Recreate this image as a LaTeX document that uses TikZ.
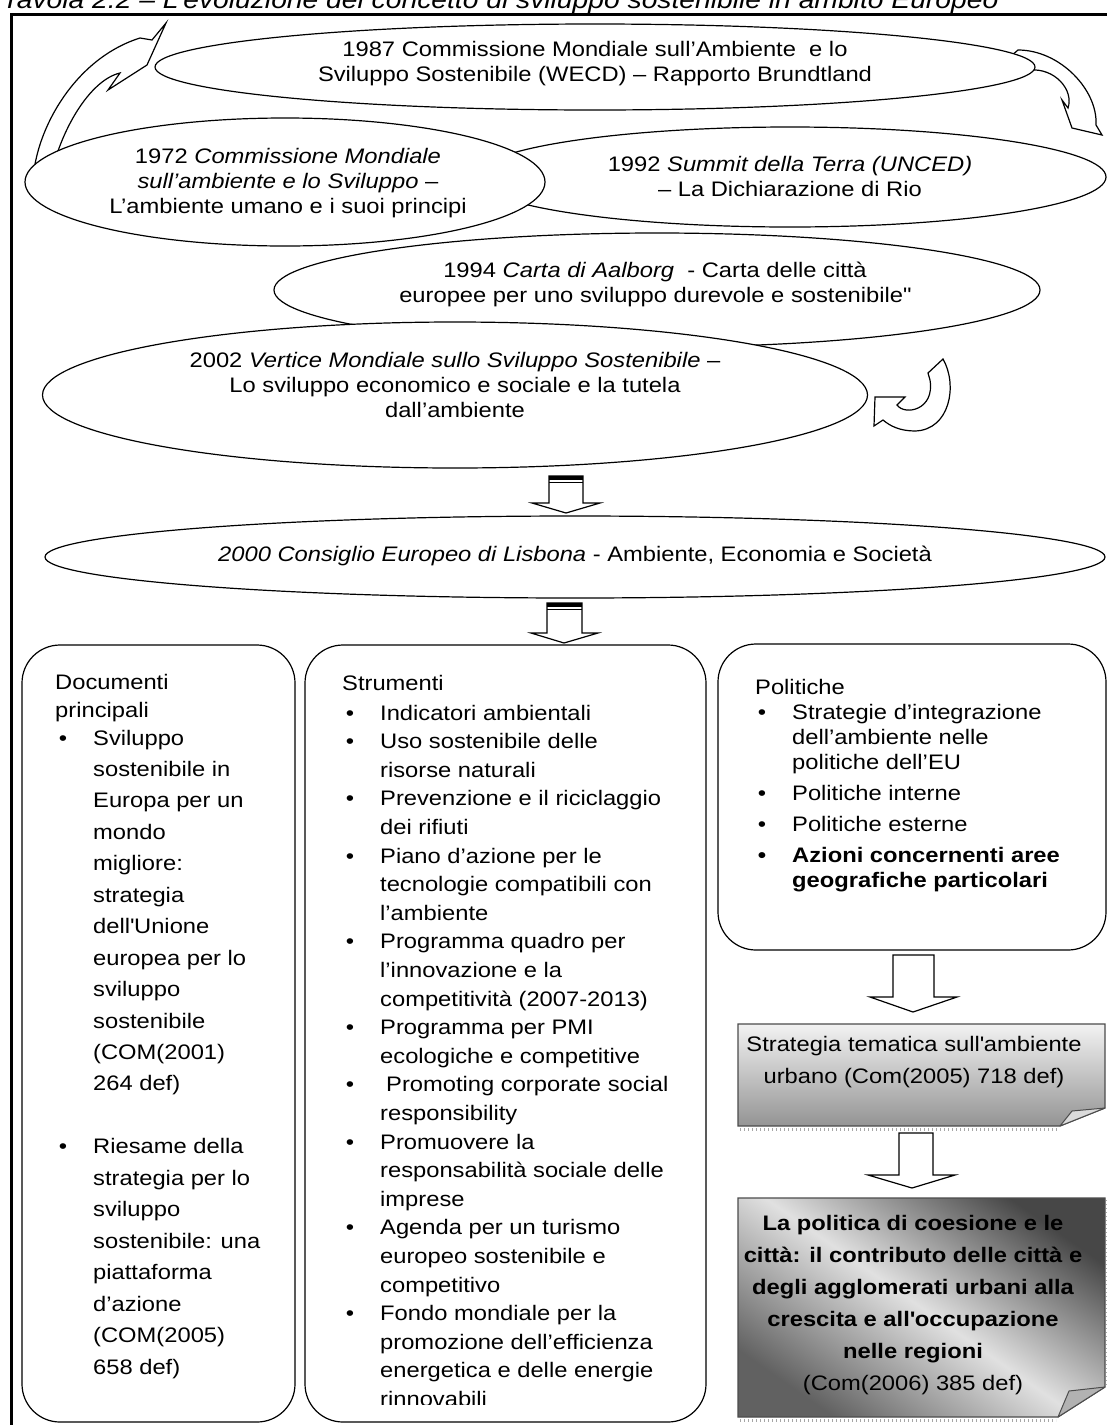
\documentclass[tikz,border=0pt]{standalone}
\usepackage{fontspec}
\setmainfont{Liberation Sans}[FakeStretch=1.13]
\usetikzlibrary{shapes.geometric}

% bullet hung to the left of an item line
\newcommand\bul{\llap{\textbullet\hspace{26pt}}}

\begin{document}
\begin{tikzpicture}[x=1pt,y=-1pt,
  every node/.style={inner sep=0pt},
  txt/.style={font=\fontsize{21}{25}\selectfont, anchor=base west},
  bubble/.style={ellipse, draw, fill=white, line width=1.2pt},
  bubbletext/.style={align=center, font=\fontsize{21}{25}\selectfont},
  panel/.style={draw, line width=1.2pt, rounded corners=38pt},
  blockarrow/.style={draw, fill=white, line width=1.2pt, line join=miter},
  curvedarrow/.style={draw, fill=white, line width=1.2pt, line join=miter},
  foldcorner/.style={draw=black!70, fill=black!14, line width=1pt, line join=round},
  ticks/.style={black!35, line width=3pt, dash pattern=on 0.8pt off 3.2pt}
]
\useasboundingbox (0,0) rectangle (1107,1425);

% title and outer frame
\node[anchor=base west, font=\fontsize{25}{30}\selectfont\itshape] (title) at (2,8)
  {Tavola 2.2 – L’evoluzione del concetto di sviluppo sostenibile in ambito Europeo};
\draw[line width=3pt] (11,14) rectangle (1120,1440);

% curved arrows round the cycle of conferences
\draw[curvedarrow] (33,192) .. controls (30,140) and (70,60) .. (140,38) -- (152,40)
  -- (166,23) -- (147,65) -- (108,90) -- (120,73)
  .. controls (90,80) and (60,130) .. (50,180) -- cycle;
\draw[curvedarrow] (1010,57) -- (1018,50) .. controls (1060,50) and (1098,90) .. (1096,125)
  -- (1102,135) -- (1072,128) -- (1062,100) -- (1068,108)
  .. controls (1074,90) and (1055,68) .. (1030,70) -- cycle;

% conferences
\node[bubble, minimum width=880pt, minimum height=86pt] (e1987) at (595,67) {};
\node[bubbletext] (t1987) at (595,64)
  {1987 Commissione Mondiale sull’Ambiente \ e lo\\Sviluppo Sostenibile (WECD) – Rapporto Brundtland};
\node[bubble, minimum width=632pt, minimum height=100pt] (e1992) at (790,177) {};
\node[bubbletext] (t1992) at (790,176)
  {1992 \textit{Summit della Terra (UNCED)}\\– La Dichiarazione di Rio};
\node[bubble, minimum width=520pt, minimum height=128pt] (e1972) at (285,182) {};
\node[bubbletext] (t1972) at (288,183)
  {1972 \textit{Commissione Mondiale}\\\textit{sull’ambiente e lo Sviluppo} –\\L’ambiente umano e i suoi principi};
\node[bubble, minimum width=766pt, minimum height=114pt] (e1994) at (657,290) {};
\node[bubbletext] (t1994) at (655,284)
  {1994 \textit{Carta di Aalborg} \ - Carta delle città\\europee per uno sviluppo durevole e sostenibile\textquotedbl};
\node[bubble, minimum width=825pt, minimum height=146pt] (e2002) at (455,395) {};
\node[bubbletext] (t2002) at (455,385)
  {2002 \textit{Vertice Mondiale sullo Sviluppo Sostenibile} –\\Lo sviluppo economico e sociale e la tutela\\dall’ambiente};

% u-turn arrow beside 2002
\draw[curvedarrow] (943,359) .. controls (958,385) and (950,430) .. (915,431)
  .. controls (900,431) and (890,426) .. (883,420) -- (874,426) -- (875,397) -- (905,397)
  -- (897,405) .. controls (905,416) and (935,410) .. (930,380) -- (928,373) -- cycle;

% Lisbon council
\node[bubble, minimum width=1060pt, minimum height=82pt] (lisbon) at (575,557) {};
\node[bubbletext] (tlisbon) at (575,556)
  {\textit{2000 Consiglio Europeo di Lisbona} - Ambiente, Economia e Società};

% block arrows
\draw[blockarrow] (549,476) -- (583,476) -- (583,503) -- (600,503) -- (566,513)
  -- (532,503) -- (549,503) -- cycle;
\fill (549,476) rectangle (583,479.5);
\draw[line width=1.2pt] (549,482.5) -- (583,482.5);
\draw[blockarrow] (547,603) -- (582,603) -- (582,633) -- (598,633) -- (564,643)
  -- (531,633) -- (547,633) -- cycle;
\fill (547,603) rectangle (582,606.5);
\draw[line width=1.2pt] (547,609.5) -- (582,609.5);

% three panels
\node[panel, minimum width=273pt, minimum height=777pt] (docs) at (158.5,1033.5) {};
\node[panel, minimum width=401pt, minimum height=777pt] (tools) at (505.5,1033.5) {};
\node[panel, minimum width=388pt, minimum height=306pt] (pol) at (912,797) {};

% Documenti principali
\node[txt] (docs-h1) at (55,689) {Documenti};
\node[txt] (docs-h2) at (55,717) {principali};
\foreach \t [count=\i from 0] in {
  {\bul Sviluppo}, {sostenibile in}, {Europa per un}, {mondo}, {migliore:},
  {strategia}, {dell\textquotesingle Unione}, {europea per lo}, {sviluppo},
  {sostenibile}, {(COM(2001)}, {264 def)}}
  \node[txt] (docs-a\i) at (93,{745+\i*31.45}) {\t};
\foreach \t [count=\i from 0] in {
  {\bul Riesame della}, {strategia per lo}, {sviluppo}, {sostenibile: una},
  {piattaforma}, {d’azione}, {(COM(2005)}, {658 def)}}
  \node[txt] (docs-b\i) at (93,{1153.9+\i*31.45}) {\t};

% Strumenti
\node[txt] (tools-h) at (342,690) {Strumenti};
\begin{scope}
\clip (305,645) rectangle (706,1404);
\foreach \t [count=\i from 0] in {
  {\bul Indicatori ambientali},
  {\bul Uso sostenibile delle}, {risorse naturali},
  {\bul Prevenzione e il riciclaggio}, {dei rifiuti},
  {\bul Piano d’azione per le}, {tecnologie compatibili con}, {l’ambiente},
  {\bul Programma quadro per}, {l’innovazione e la}, {competitività (2007-2013)},
  {\bul Programma per PMI}, {ecologiche e competitive},
  {\bul\hspace{6pt}Promoting corporate social}, {responsibility},
  {\bul Promuovere la}, {responsabilità sociale delle}, {imprese},
  {\bul Agenda per un turismo}, {europeo sostenibile e}, {competitivo},
  {\bul Fondo mondiale per la}, {promozione dell’efficienza},
  {energetica e delle energie}, {rinnovabili}}
  \node[txt] (tools-\i) at (380,{720+\i*28.6}) {\t};
\end{scope}

% Politiche
\node[txt] (pol-h) at (755,694) {Politiche};
\foreach \y/\t [count=\i] in {
  719/{\bul Strategie d’integrazione}, 744/{dell’ambiente nelle}, 769/{politiche dell’EU},
  800/{\bul Politiche interne}, 831/{\bul Politiche esterne},
  862/{\textbf{\bul Azioni concernenti aree}}, 887/{\textbf{geografiche particolari}}}
  \node[txt] (pol-\i) at (792,\y) {\t};

% arrows down the right column
\draw[blockarrow] (893,955) -- (934,955) -- (934,997) -- (957,997) -- (913,1012)
  -- (870,997) -- (893,997) -- cycle;
\draw[blockarrow] (899,1133) -- (933,1133) -- (933,1175) -- (955,1175) -- (912,1188)
  -- (868,1175) -- (899,1175) -- cycle;

% thematic strategy note
\draw[ticks] (740,1129) -- (1058,1129);
\shadedraw[top color=black!5, bottom color=black!42, draw=black!70, line width=1.2pt]
  (738,1024) -- (1105,1024) -- (1105,1108) -- (1060,1126) -- (738,1126) -- cycle;
\draw[foldcorner] (1060,1126) -- (1072,1111) -- (1105,1108) -- cycle;
\node[align=center, font=\fontsize{21}{32}\selectfont] (strat) at (914,1062)
  {Strategia tematica sull\textquotesingle ambiente\\urbano (Com(2005) 718 def)};

% cohesion policy note
\draw[ticks] (740,1420) -- (1056,1420);
\draw[ticks] (1107,1200) -- (1107,1385);
\shadedraw[top color=black!72, bottom color=black!62, middle color=black!12,
  shading angle=-35, draw=black!70, line width=1.2pt]
  (738,1198) -- (1105,1198) -- (1105,1387) -- (1058,1417) -- (738,1417) -- cycle;
\draw[foldcorner, fill=black!30] (1058,1417) -- (1069,1391) -- (1105,1387) -- cycle;
\node[align=center, font=\fontsize{21}{32}\selectfont\bfseries] (cohesion) at (913,1305)
  {La politica di coesione e le\\città: il contributo delle città e\\degli agglomerati urbani alla\\crescita e all\textquotesingle occupazione\\nelle regioni\\\mdseries (Com(2006) 385 def)};
\end{tikzpicture}
\end{document}
